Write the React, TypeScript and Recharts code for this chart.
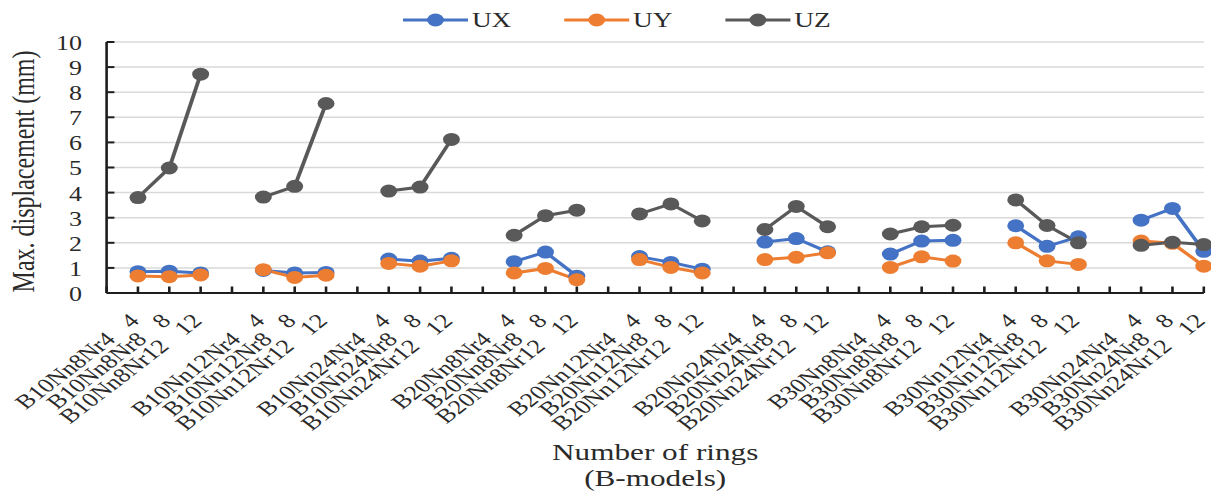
import React from 'react';
import { LineChart, Line, XAxis, YAxis, CartesianGrid, Legend, Label } from 'recharts';

const groups = ['B10Nn8', 'B10Nn12', 'B10Nn24', 'B20Nn8', 'B20Nn12', 'B20Nn24', 'B30Nn8', 'B30Nn12', 'B30Nn24'];
const rings = ['4', '8', '12'];
const seriesNames = ['UX', 'UY', 'UZ'];
const seriesColors = ['#4472C4', '#ED7D31', '#595959'];

const ux = [0.85, 0.87, 0.8, 0.9, 0.8, 0.82, 1.35, 1.27, 1.38, 1.25, 1.63, 0.67, 1.45, 1.22, 0.95, 2.03, 2.17, 1.64, 1.55, 2.07, 2.1, 2.68, 1.86, 2.24, 2.9, 3.37, 1.66];
const uy = [0.68, 0.65, 0.72, 0.93, 0.62, 0.71, 1.18, 1.07, 1.28, 0.8, 0.98, 0.53, 1.33, 1.02, 0.8, 1.33, 1.42, 1.6, 1.02, 1.44, 1.27, 2.0, 1.28, 1.14, 2.07, 1.98, 1.07];
const uz = [3.8, 4.98, 8.72, 3.82, 4.25, 7.55, 4.06, 4.22, 6.12, 2.3, 3.08, 3.3, 3.15, 3.55, 2.87, 2.53, 3.45, 2.64, 2.35, 2.64, 2.7, 3.71, 2.69, 2.0, 1.9, 2.02, 1.93];
const yTicks = [0, 1, 2, 3, 4, 5, 6, 7, 8, 9, 10];

const xTitle = ['Number of rings', '(B-models)'];
const yTitle = 'Max. displacement (mm)';

const seriesValues = [ux, uy, uz];

type Row = { key: string; name?: string; ring?: string; [k: string]: any };
const data: Row[] = [];
groups.forEach((g, gi) => {
  data.push({ key: `gap${gi}` });
  rings.forEach((r, ri) => {
    const i = gi * 3 + ri;
    const row: Row = { key: `${g}Nr${r}`, name: `${g}Nr${r}`, ring: r };
    seriesNames.forEach((s, si) => {
      row[s] = seriesValues[si][i];
    });
    data.push(row);
  });
});

const FONT = '"Liberation Serif", "Times New Roman", serif';
const AXIS_COLOR = '#1e1e1e';
const TEXT_COLOR = '#2a2a2a';

const XTick = (props: any) => {
  const { x, y, payload } = props;
  const row = data.find((d) => d.key === payload.value);
  return (
    <g>
      <line x1={x} x2={x} y1={y} y2={y - 6.5} stroke={AXIS_COLOR} strokeWidth={2} />
      {row && row.ring ? (
        <text
          transform={`translate(${x + 2},${y + 29}) rotate(-45)`}
          textAnchor="end"
          fontSize={20}
          fontFamily={FONT}
          fill={TEXT_COLOR}
        >
          <tspan>{row.name}</tspan>
          <tspan dx={16}>{row.ring}</tspan>
        </text>
      ) : null}
    </g>
  );
};

const YTick = (props: any) => {
  const { x, y, payload } = props;
  return (
    <g>
      <line x1={x} x2={x + 6} y1={y} y2={y} stroke={AXIS_COLOR} strokeWidth={2} />
      <text x={x - 19} y={y + 8} textAnchor="end" fontSize={20} fontFamily={FONT} fill={TEXT_COLOR}>
        {payload.value}
      </text>
    </g>
  );
};

const LegendContent = () => (
  <svg width={340} height={30}>
    {seriesNames.map((s, i) => (
      <g key={s} transform={`translate(${i * 124},0)`}>
        <line x1={0} x2={50} y1={15} y2={15} stroke={seriesColors[i]} strokeWidth={3} />
        <circle cx={25} cy={15} r={6.5} fill={seriesColors[i]} />
        <text x={53} y={22} fontSize={21} fontFamily={FONT} fill={TEXT_COLOR}>
          {s}
        </text>
      </g>
    ))}
  </svg>
);

const XTitle = (props: any) => {
  const vb = props.viewBox || { x: 82, y: 293, width: 844, height: 190 };
  const cx = vb.x + vb.width / 2;
  return (
    <text textAnchor="middle" fontSize={24} fontFamily={FONT} fill={TEXT_COLOR}>
      <tspan x={cx} y={vb.y + 167}>{xTitle[0]}</tspan>
      <tspan x={cx} y={vb.y + 193}>{xTitle[1]}</tspan>
    </text>
  );
};

const YTitle = (props: any) => {
  const vb = props.viewBox || { x: 12, y: 42, width: 70, height: 251 };
  const cx = vb.x + 6;
  const cy = vb.y + vb.height / 2 + 4;
  return (
    <text
      transform={`rotate(-90 ${cx} ${cy})`}
      x={cx}
      y={cy}
      textAnchor="middle"
      dominantBaseline="central"
      fontSize={24}
      fontFamily={FONT}
      fill={TEXT_COLOR}
    >
      {yTitle}
    </text>
  );
};

export default function App() {
  return (
    <div
      style={{
        position: 'absolute',
        left: 0,
        top: 0,
        width: 932,
        height: 494,
        background: '#ffffff',
        transform: 'scaleX(1.3)',
        transformOrigin: '0 0',
      }}
    >
      <LineChart width={932} height={494} data={data} margin={{ top: 42, right: 6, bottom: 11, left: 12 }}>
        <CartesianGrid horizontal vertical={false} stroke="#d9d9d9" strokeWidth={1.5} />
        <XAxis
          dataKey="key"
          type="category"
          scale="point"
          padding={{ left: 0, right: 0 }}
          interval={0}
          height={190}
          tickSize={0}
          tickMargin={0}
          tickLine={false}
          axisLine={{ stroke: AXIS_COLOR, strokeWidth: 2 }}
          tick={<XTick />}
        >
          <Label content={<XTitle />} />
        </XAxis>
        <YAxis
          type="number"
          domain={[0, 10]}
          ticks={yTicks}
          interval={0}
          width={70}
          tickSize={0}
          tickMargin={0}
          tickLine={false}
          axisLine={{ stroke: AXIS_COLOR, strokeWidth: 2 }}
          tick={<YTick />}
        >
          <Label content={<YTitle />} />
        </YAxis>
        <Legend
          verticalAlign="middle"
          align="center"
          layout="horizontal"
          wrapperStyle={{ top: 5, left: 310, width: 340, height: 30 }}
          content={() => <LegendContent />}
        />
        {seriesNames.map((s, i) => (
          <Line
            key={s}
            dataKey={s}
            stroke={seriesColors[i]}
            strokeWidth={3}
            dot={{ r: 6.5, fill: seriesColors[i], stroke: seriesColors[i], strokeWidth: 0 }}
            activeDot={false}
            isAnimationActive={false}
            connectNulls={false}
          />
        ))}
      </LineChart>
    </div>
  );
}
